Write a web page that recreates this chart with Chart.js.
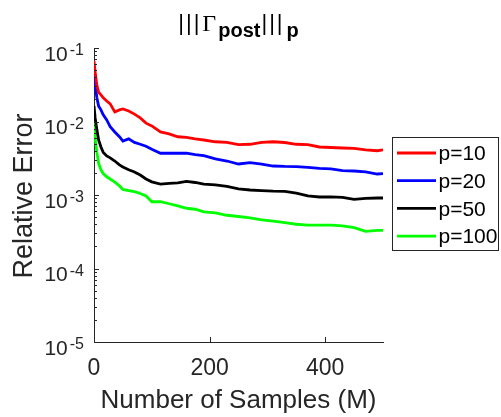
<!DOCTYPE html>
<html>
<head>
<meta charset="utf-8">
<script src="https://cdn.jsdelivr.net/npm/chart.js@4/dist/chart.umd.min.js"></script>
<style>
  html, body { margin: 0; padding: 0; background: #fff; }
  #wrap { width: 501px; height: 417px; }
</style>
</head>
<body>
<div id="wrap"><canvas id="chart" width="501" height="417"></canvas></div>
<script>
// number of samples M
const samples = [0, 2, 5, 8, 12, 16, 22, 28, 36, 44, 50, 60, 70, 80, 90, 100, 115, 130, 145, 160, 175, 190, 210, 230, 250, 270, 290, 310, 330, 350, 370, 390, 410, 430, 450, 470, 490, 500];

const errP10 = [0.067, 0.047, 0.031, 0.025, 0.023, 0.021, 0.019, 0.0174, 0.0135, 0.0144, 0.0148, 0.0139, 0.0126, 0.0112, 0.0095, 0.0087, 0.0072, 0.0068, 0.0062, 0.0061, 0.0058, 0.0056, 0.0053, 0.0052, 0.00486, 0.0049, 0.0052, 0.0053, 0.00518, 0.0049, 0.00486, 0.0045, 0.00443, 0.00436, 0.0043, 0.0041, 0.0040, 0.0041];
const errP20 = [0.050, 0.031, 0.021, 0.0162, 0.0144, 0.0123, 0.0105, 0.0085, 0.0072, 0.0062, 0.0054, 0.0058, 0.0052, 0.0049, 0.0046, 0.0042, 0.0037, 0.0037, 0.0037, 0.0037, 0.00355, 0.00344, 0.0031, 0.0029, 0.00264, 0.00275, 0.00264, 0.00248, 0.00245, 0.00244, 0.00237, 0.0023, 0.00226, 0.00215, 0.00212, 0.00206, 0.00193, 0.00195];
const errP50 = [0.0163, 0.0112, 0.0077, 0.0056, 0.0045, 0.0038, 0.0034, 0.0032, 0.0029, 0.00257, 0.0024, 0.0022, 0.00206, 0.00187, 0.00165, 0.00151, 0.00141, 0.00144, 0.00146, 0.00153, 0.00148, 0.00141, 0.00137, 0.00131, 0.00121, 0.00117, 0.00115, 0.00113, 0.00112, 0.00106, 0.00097, 0.00094, 0.00094, 0.00093, 0.00087, 0.0009, 0.00091, 0.00091];
const errP100 = [0.0099, 0.006, 0.0038, 0.0027, 0.0022, 0.00196, 0.00177, 0.00165, 0.0015, 0.00133, 0.00119, 0.00115, 0.00111, 0.00105, 0.00097, 0.00081, 0.00081, 0.00076, 0.00071, 0.00066, 0.00064, 0.00059, 0.00057, 0.00053, 0.00051, 0.00049, 0.00046, 0.00044, 0.00042, 0.0004, 0.00039, 0.00039, 0.00039, 0.00038, 0.00036, 0.00032, 0.00033, 0.00033];

const seriesLabels = ['p=10', 'p=20', 'p=50', 'p=100'];
const seriesColors = ['#ff0000', '#0000ff', '#000000', '#00ff00'];

const xTicks = [0, 200, 400];
const yTickExp = [-5, -4, -3, -2, -1];

const font = '"Liberation Sans", Arial, sans-serif';
const axisColor = '#262626';

function toPoints(vals) {
  return vals.map((v, i) => ({ x: samples[i], y: v }));
}

const datasets = [errP10, errP20, errP50, errP100].map((vals, i) => ({
  label: seriesLabels[i],
  data: toPoints(vals),
  borderColor: seriesColors[i],
  backgroundColor: seriesColors[i],
  borderWidth: 2.8,
  pointRadius: 0,
  tension: 0,
  fill: false
}));

// draws ticks, tick labels, axis titles, title and legend in MATLAB style
const matlabDecor = {
  id: 'matlabDecor',
  afterDraw(chart) {
    const ctx = chart.ctx;
    const xs = chart.scales.x, ys = chart.scales.y;
    const area = chart.chartArea;
    ctx.save();
    ctx.strokeStyle = axisColor;
    ctx.lineWidth = 1;

    // y ticks (major + minor), inward
    for (let e = -5; e <= -1; e++) {
      for (let m = 1; m <= 9; m++) {
        const v = m * Math.pow(10, e);
        if (v > 0.1 + 1e-12) break;
        const py = Math.round(ys.getPixelForValue(v)) + 0.5;
        const len = m === 1 ? 5 : 3;
        ctx.beginPath();
        ctx.moveTo(area.left, py);
        ctx.lineTo(area.left + len, py);
        ctx.stroke();
      }
    }
    // x ticks, inward
    xTicks.forEach(v => {
      const px = Math.round(xs.getPixelForValue(v)) + 0.5;
      ctx.beginPath();
      ctx.moveTo(px, area.bottom);
      ctx.lineTo(px, area.bottom - 5);
      ctx.stroke();
    });

    ctx.fillStyle = axisColor;
    // y tick labels 10^e
    yTickExp.forEach(e => {
      const py = ys.getPixelForValue(Math.pow(10, e));
      const sup = '-' + Math.abs(e);
      ctx.font = '16px ' + font;
      const wSup = ctx.measureText(sup).width;
      ctx.textAlign = 'left';
      ctx.textBaseline = 'alphabetic';
      const supX = 84 - wSup;
      ctx.fillText(sup, supX, py + 7);
      ctx.font = '21px ' + font;
      ctx.textAlign = 'right';
      ctx.fillText('10', supX - 2, py + 12.5);
    });
    // x tick labels
    ctx.font = '23px ' + font;
    ctx.textAlign = 'center';
    ctx.textBaseline = 'alphabetic';
    xTicks.forEach(v => {
      ctx.fillText(String(v), xs.getPixelForValue(v), 375);
    });

    // axis titles
    ctx.font = '26px ' + font;
    ctx.fillText('Number of Samples (M)', (area.left + area.right) / 2, 408);
    ctx.save();
    ctx.translate(32, 196);
    ctx.rotate(-Math.PI / 2);
    ctx.font = '27px ' + font;
    ctx.fillText('Relative Error', 0, 0);
    ctx.restore();

    // title |||Γ_post|||_p
    ctx.fillStyle = '#000';
    const parts = [
      { t: '|||', f: '22px ' + font, y: 30, gap: 1, ls: '2px' },
      { t: 'Γ', f: '24px "Liberation Serif", "Times New Roman", serif', y: 31, gap: 2, ls: '0px' },
      { t: 'post', f: 'bold 20px ' + font, y: 37, gap: 1, ls: '0px' },
      { t: '|||', f: '22px ' + font, y: 30, gap: 2, ls: '2px' },
      { t: 'p', f: 'bold 20px ' + font, y: 37, gap: 0, ls: '0px' }
    ];
    let total = 0;
    parts.forEach(p => {
      ctx.font = p.f;
      ctx.letterSpacing = p.ls;
      p.w = ctx.measureText(p.t).width;
      total += p.w + p.gap;
    });
    let tx = (area.left + area.right) / 2 - total / 2;
    ctx.textAlign = 'left';
    parts.forEach(p => {
      ctx.font = p.f;
      ctx.letterSpacing = p.ls;
      ctx.fillText(p.t, tx, p.y);
      tx += p.w + p.gap;
    });
    ctx.letterSpacing = '0px';

    // legend box
    const lx = 392.5, ly = 137.5, lw = 106, lh = 113;
    ctx.fillStyle = '#fff';
    ctx.fillRect(lx, ly, lw, lh);
    ctx.strokeStyle = axisColor;
    ctx.strokeRect(lx, ly, lw, lh);
    ctx.font = '21px ' + font;
    ctx.textBaseline = 'middle';
    chart.data.datasets.forEach((ds, i) => {
      const cy = 153 + i * 27.7;
      ctx.strokeStyle = ds.borderColor;
      ctx.lineWidth = 2.8;
      ctx.beginPath();
      ctx.moveTo(397, cy);
      ctx.lineTo(436, cy);
      ctx.stroke();
      ctx.fillStyle = '#000';
      ctx.fillText(ds.label, 438.5, cy + 1.5);
    });
    ctx.restore();
  }
};

new Chart(document.getElementById('chart').getContext('2d'), {
  type: 'line',
  data: { datasets: datasets },
  options: {
    responsive: false,
    animation: false,
    layout: { padding: { top: 48, right: 118, left: 0, bottom: 0 } },
    plugins: {
      legend: { display: false },
      tooltip: { enabled: false },
      title: { display: false }
    },
    scales: {
      x: {
        type: 'linear',
        min: 0,
        max: 500,
        grid: { display: false },
        border: { display: true, color: axisColor, width: 1 },
        ticks: { display: false },
        afterBuildTicks: s => { s.ticks = xTicks.map(v => ({ value: v })); },
        afterFit: s => { s.height = 75; }
      },
      y: {
        type: 'logarithmic',
        min: 1e-5,
        max: 1e-1,
        grid: { display: false },
        border: { display: true, color: axisColor, width: 1 },
        ticks: { display: false },
        afterBuildTicks: s => { s.ticks = yTickExp.map(e => ({ value: Math.pow(10, e) })); },
        afterFit: s => { s.width = 94; }
      }
    }
  },
  plugins: [matlabDecor]
});
</script>
</body>
</html>
